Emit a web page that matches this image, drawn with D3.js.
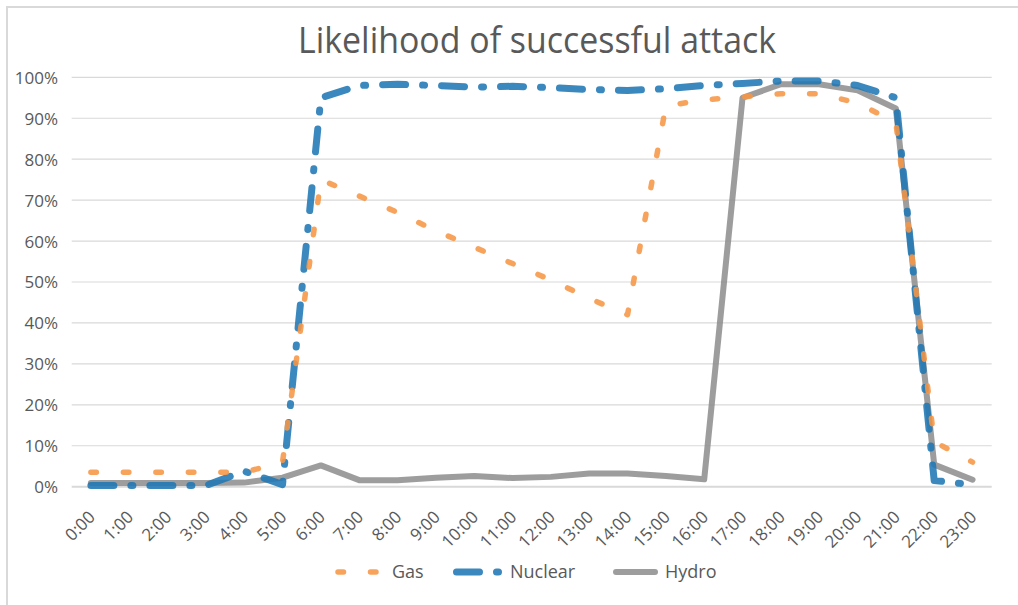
<!DOCTYPE html>
<html>
<head>
<meta charset="utf-8">
<script src="https://cdn.jsdelivr.net/npm/d3@7"></script>
<style>
  html, body { margin: 0; padding: 0; background: #fff; }
  svg { display: block; }
  text { font-family: "Open Sans", "Noto Sans", sans-serif; fill: #595959; }
</style>
</head>
<body>
<svg id="chart" width="1018" height="605"></svg>
<script>
const categories = ["0:00","1:00","2:00","3:00","4:00","5:00","6:00","7:00","8:00","9:00","10:00","11:00",
  "12:00","13:00","14:00","15:00","16:00","17:00","18:00","19:00","20:00","21:00","22:00","23:00"];
const gas     = [3.5, 3.5, 3.5, 3.5, 3.5, 6, 75, 71, 67, 62.5, 58.5, 54.5, 50.5, 46, 42, 93, 94.5, 95.2, 96, 96, 93.7, 89, 11, 6];
const nuclear = [0.3, 0.3, 0.3, 0.3, 3.8, 0.5, 95, 98, 98.3, 98, 97.6, 97.8, 97.5, 97, 96.8, 97.2, 98, 98.5, 99.1, 99.1, 98, 95, 1.5, 0.5];
const hydro   = [0.9, 0.9, 0.9, 0.9, 1, 2.2, 5.2, 1.6, 1.6, 2.2, 2.6, 2.1, 2.4, 3.2, 3.2, 2.6, 1.8, 95, 98.3, 98.3, 96.8, 92.4, 5.4, 1.7];
const yTicks  = [0, 10, 20, 30, 40, 50, 60, 70, 80, 90, 100];
const seriesNames = ["Gas", "Nuclear", "Hydro"];
const title = "Likelihood of successful attack";

const svg = d3.select("#chart");

// chart border
svg.append("path")
  .attr("d", "M7,700 L7,7 L1100,7")
  .attr("fill", "none").attr("stroke", "#d9d9d9").attr("stroke-width", 2);

const x = d3.scaleBand().domain(categories).range([71.7, 991.7]);
const y = d3.scaleLinear().domain([0, 100]).range([486.7, 77.3]);
const cx = d => x(d) + x.bandwidth() / 2;

// title
svg.append("text")
  .attr("x", 537).attr("y", 53)
  .attr("text-anchor", "middle")
  .attr("font-size", 37)
  .attr("textLength", 478).attr("lengthAdjust", "spacingAndGlyphs")
  .text(title);

// gridlines
svg.append("g")
  .selectAll("line").data(yTicks.filter(t => t > 0)).join("line")
  .attr("x1", 71.7).attr("x2", 991.7)
  .attr("y1", d => y(d)).attr("y2", d => y(d))
  .attr("stroke", "#d9d9d9").attr("stroke-width", 1.2);

// y axis labels
const yAxis = d3.axisLeft(y).tickValues(yTicks).tickFormat(d => d + "%").tickSize(0).tickPadding(0);
const gy = svg.append("g").attr("transform", "translate(58,0)").call(yAxis);
gy.select(".domain").remove();
gy.selectAll("text").attr("font-size", 17).attr("fill", "#595959")
  .attr("font-family", '"Open Sans", sans-serif').attr("dy", "0.35em");

// x axis baseline
svg.append("line")
  .attr("x1", 71.7).attr("x2", 991.7).attr("y1", y(0)).attr("y2", y(0))
  .attr("stroke", "#d9d9d9").attr("stroke-width", 2);

// x labels
svg.append("g").selectAll("text").data(categories).join("text")
  .attr("transform", d => `translate(${cx(d) + 1},514) rotate(-45)`)
  .attr("text-anchor", "end").attr("dy", "0.35em")
  .attr("font-size", 17)
  .text(d => d);

const line = d3.line().x((d, i) => cx(categories[i])).y(d => y(d));

const styles = {
  Gas:     { color: "#F79646", opacity: 0.88, width: 5.5, dash: "5.5 27" },
  Nuclear: { color: "#1F77B4", opacity: 0.88, width: 7,   dash: "23 17 2 17" },
  Hydro:   { color: "#8C8C8C", opacity: 0.85, width: 6,   dash: null }
};

// draw order: Hydro under, Nuclear, then Gas on top
[["Hydro", hydro], ["Nuclear", nuclear], ["Gas", gas]].forEach(([name, data]) => {
  const s = styles[name];
  svg.append("path")
    .datum(data)
    .attr("d", line)
    .attr("fill", "none")
    .attr("stroke", s.color)
    .attr("stroke-opacity", s.opacity)
    .attr("stroke-width", s.width)
    .attr("stroke-linecap", "round")
    .attr("stroke-linejoin", "round")
    .attr("stroke-dasharray", s.dash);
});

// legend
const legendItems = [
  { name: "Gas",     x1: 338,   x2: 381, tx: 392 },
  { name: "Nuclear", x1: 456.5, x2: 500, tx: 510 },
  { name: "Hydro",   x1: 616,   x2: 655, tx: 665 }
];
const lg = svg.append("g");
legendItems.forEach(it => {
  const s = styles[it.name];
  lg.append("line")
    .attr("x1", it.x1).attr("x2", it.x2).attr("y1", 572).attr("y2", 572)
    .attr("stroke", s.color).attr("stroke-opacity", s.opacity)
    .attr("stroke-width", s.width).attr("stroke-linecap", "round")
    .attr("stroke-dasharray", s.dash);
  lg.append("text")
    .attr("x", it.tx).attr("y", 572).attr("dy", "0.35em")
    .attr("font-size", 18)
    .text(it.name);
});
</script>
</body>
</html>
